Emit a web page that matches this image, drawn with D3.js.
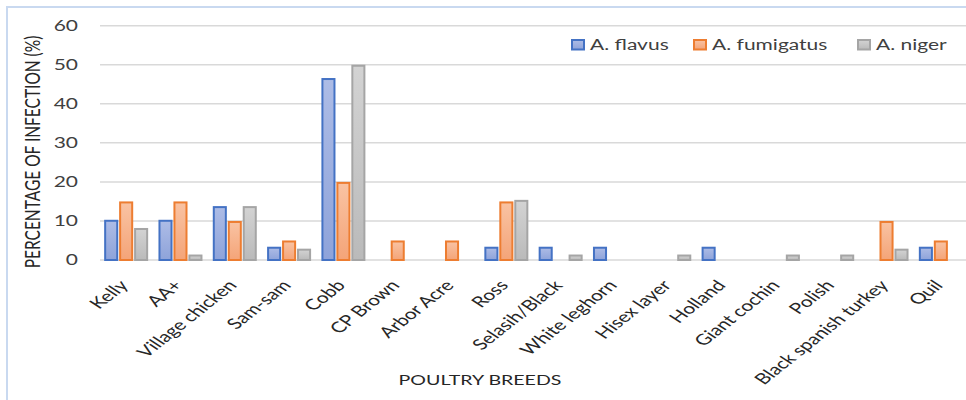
<!DOCTYPE html>
<html>
<head>
<meta charset="utf-8">
<script src="https://cdn.jsdelivr.net/npm/d3@7"></script>
<style>
  html, body { margin: 0; padding: 0; background: #fff; }
  svg { display: block; font-family: Lato, "Open Sans", sans-serif; }
</style>
</head>
<body>
<svg id="chart" width="966" height="400"></svg>
<script>
// Poultry breeds and infection rates (%) per Aspergillus species
const breeds = ["Kelly", "AA+", "Village chicken", "Sam-sam", "Cobb", "CP Brown", "Arbor Acre",
  "Ross", "Selasih/Black", "White leghorn", "Hisex layer", "Holland", "Giant cochin", "Polish",
  "Black spanish turkey", "Quil"];
const seriesNames = ["A. flavus", "A. fumigatus", "A. niger"];
const flavus    = [10.3, 10.3, 13.8, 3.4, 46.6, 0, 0, 3.4, 3.4, 3.4, 0, 3.4, 0, 0, 0, 3.4];
const fumigatus = [15, 15, 10, 5, 20, 5, 5, 15, 0, 0, 0, 0, 0, 0, 10, 5];
const niger     = [8.2, 1.4, 13.8, 2.9, 50, 0, 0, 15.4, 1.4, 0, 1.4, 0, 1.4, 1.4, 2.9, 0];
const yTicks = [0, 10, 20, 30, 40, 50, 60];

const seriesValues = [flavus, fumigatus, niger];
const strokes = ["#4472c4", "#ed7d31", "#a5a5a5"];
const fillTop = ["#adbce6", "#f9c3a3", "#d3d3d3"];
const fillBottom = ["#8ea3da", "#f4a478", "#bababa"];

// the whole figure is laid out with horizontally widened lettering
const SX = 1.4;

const svg = d3.select("#chart");
const W = 966, H = 400;
const plotLeft = 99, plotRight = 968, plotTop = 25.7, plotBottom = 260;

// frame of the chart area
svg.append("path")
  .attr("d", `M7,${H} V7 H${W}`)
  .attr("fill", "none")
  .attr("stroke", "#c9d9f0")
  .attr("stroke-width", 2);

const defs = svg.append("defs");
seriesNames.forEach((s, i) => {
  const g = defs.append("linearGradient")
    .attr("id", "grad" + i).attr("x1", 0).attr("y1", 0).attr("x2", 0).attr("y2", 1);
  g.append("stop").attr("offset", "0%").attr("stop-color", fillTop[i]);
  g.append("stop").attr("offset", "100%").attr("stop-color", fillBottom[i]);
});

const x0 = d3.scaleBand().domain(breeds).range([plotLeft, plotRight])
  .paddingInner(0.19).paddingOuter(0.095);
const x1 = d3.scaleBand().domain(seriesNames).range([0, x0.bandwidth()]).paddingInner(0.06);
const y = d3.scaleLinear().domain([0, 60]).range([plotBottom, plotTop]);

// horizontal gridlines
svg.append("g").selectAll("line").data(yTicks).join("line")
  .attr("x1", plotLeft + 1).attr("x2", W)
  .attr("y1", d => y(d)).attr("y2", d => y(d))
  .attr("stroke", "#d9d9d9").attr("stroke-width", 1.5);

// y-axis labels
const yAxis = d3.axisLeft(y).tickValues(yTicks).tickSize(0).tickPadding(0);
const gy = svg.append("g").attr("transform", "translate(78,0)").call(yAxis);
gy.select(".domain").remove();
gy.selectAll("text")
  .attr("fill", "#404040")
  .style("font-size", "15px")
  .style("font-family", "Lato, sans-serif")
  .attr("x", 0)
  .attr("transform", `scale(${SX},1)`);

// bars
const groups = svg.append("g").selectAll("g").data(breeds).join("g")
  .attr("transform", d => `translate(${x0(d)},0)`);
groups.selectAll("rect")
  .data((d, i) => seriesNames.map((s, k) => ({ s, k, v: seriesValues[k][i] })).filter(e => e.v > 0))
  .join("rect")
  .attr("x", e => x1(e.s) + 1)
  .attr("width", x1.bandwidth() - 2)
  .attr("y", e => y(e.v) + 1)
  .attr("height", e => Math.max(0, y(0) - y(e.v) - 1))
  .attr("fill", e => `url(#grad${e.k})`)
  .attr("stroke", e => strokes[e.k])
  .attr("stroke-width", 2);

// category labels, rotated
const xAxis = d3.axisBottom(x0).tickSize(0).tickPadding(0);
const gx = svg.append("g").attr("transform", `translate(0,${plotBottom})`).call(xAxis);
gx.select(".domain").remove();
gx.selectAll("text")
  .attr("fill", "#262626")
  .style("font-size", "15px")
  .style("font-family", "Lato, sans-serif")
  .attr("text-anchor", "end")
  .attr("dy", null)
  .attr("y", 0)
  .attr("transform", `translate(3,26) scale(${SX},1) rotate(-48)`);

// axis titles
svg.append("text")
  .attr("transform", `translate(40,152) scale(${SX},1) rotate(-90)`)
  .attr("text-anchor", "middle")
  .attr("fill", "#262626")
  .style("font-size", "15.5px")
  .text("PERCENTAGE OF INFECTION (%)");

svg.append("text")
  .attr("transform", `translate(480,385) scale(${SX},1)`)
  .attr("text-anchor", "middle")
  .attr("fill", "#262626")
  .style("font-size", "14px")
  .text("POULTRY BREEDS");

// legend
const legendX = [571, 693, 857];
const legend = svg.append("g").selectAll("g").data(seriesNames).join("g")
  .attr("transform", (d, i) => `translate(${legendX[i]},39)`);
legend.append("rect")
  .attr("x", 1).attr("y", 1).attr("width", 12).attr("height", 9.5)
  .attr("fill", (d, i) => `url(#grad${i})`)
  .attr("stroke", (d, i) => strokes[i]).attr("stroke-width", 2);
legend.append("text")
  .attr("transform", `translate(19,10.5) scale(${SX},1)`)
  .attr("fill", "#404040")
  .style("font-size", "15px")
  .text(d => d);
</script>
</body>
</html>
